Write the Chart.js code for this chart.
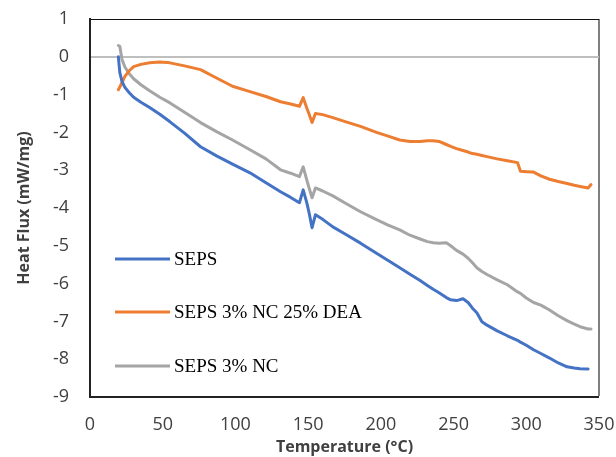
<!DOCTYPE html>
<html>
<head>
<meta charset="utf-8">
<script src="https://cdn.jsdelivr.net/npm/chart.js@4/dist/chart.umd.min.js"></script>
<style>
  html, body { margin: 0; padding: 0; background: #fff; }
  #wrap { width: 616px; height: 457px; }
</style>
</head>
<body>
<div id="wrap"><canvas id="DscChart"></canvas></div>
<script>
const temps = [19.5, 20.5, 22, 24, 27, 30, 35, 41, 48, 55, 65, 76, 87, 98, 110, 121, 131, 138, 144, 146.6,
  149, 150.5, 152.7, 155, 160, 167, 176, 186, 197, 205, 213, 220, 227, 232, 236, 240, 245, 248, 252, 256.5,
  260, 263, 266, 269.5, 273, 280, 287, 294, 296, 300, 305, 310, 316, 322, 328, 333, 337, 342.5, 344.5];

const seps = [0, -0.42, -0.65, -0.81, -0.95, -1.07, -1.2, -1.34, -1.52, -1.72, -2.02, -2.38, -2.62, -2.84, -3.07, -3.33, -3.57, -3.72, -3.86, -3.52,
  -3.85, -4.1, -4.52, -4.18, -4.3, -4.5, -4.7, -4.93, -5.2, -5.39, -5.58, -5.75, -5.92, -6.05, -6.15, -6.24, -6.37, -6.43, -6.45, -6.4,
  -6.5, -6.65, -6.77, -7.01, -7.1, -7.25, -7.38, -7.5, -7.55, -7.63, -7.75, -7.85, -7.97, -8.1, -8.2, -8.23, -8.25, -8.26, null];

const sepsNcDea = [-0.87, -0.8, -0.68, -0.52, -0.37, -0.26, -0.2, -0.16, -0.14, -0.16, -0.24, -0.34, -0.56, -0.78, -0.92, -1.05, -1.19, -1.25, -1.31, -1.08,
  -1.35, -1.5, -1.74, -1.5, -1.53, -1.61, -1.72, -1.84, -2.0, -2.1, -2.2, -2.24, -2.24, -2.22, -2.22, -2.24, -2.32, -2.37, -2.43, -2.48,
  -2.52, -2.56, -2.58, -2.61, -2.64, -2.7, -2.75, -2.8, -3.03, -3.04, -3.05, -3.15, -3.24, -3.3, -3.35, -3.4, -3.43, -3.47, -3.38];

const sepsNc = [0.3, 0.28, -0.07, -0.27, -0.45, -0.58, -0.74, -0.9, -1.07, -1.22, -1.47, -1.74, -1.98, -2.2, -2.46, -2.7, -2.99, -3.08, -3.17, -2.91,
  -3.25, -3.45, -3.73, -3.47, -3.55, -3.68, -3.88, -4.1, -4.31, -4.45, -4.58, -4.72, -4.82, -4.89, -4.92, -4.93, -4.92, -5.0, -5.12, -5.22,
  -5.33, -5.45, -5.58, -5.68, -5.76, -5.9, -6.03, -6.22, -6.26, -6.38, -6.5, -6.57, -6.7, -6.85, -6.98, -7.07, -7.14, -7.2, -7.2];

const seriesNames = ['SEPS', 'SEPS 3% NC 25% DEA', 'SEPS 3% NC'];
const seriesColors = ['#4472C4', '#ED7D31', '#A5A5A5'];

function toPoints(vals) {
  return temps.map((t, i) => ({ x: t, y: vals[i] }));
}

const tickFont = { family: 'Open Sans', size: 18 };
const titleFont = { family: 'Open Sans', size: 16, weight: 'bold' };
const textColor = '#404040';

// legend sits inside the plot area, on the left
const insideLegend = {
  id: 'insideLegend',
  afterDatasetsDraw(chart) {
    const { ctx, chartArea } = chart;
    const rows = [259, 312, 366];
    ctx.save();
    ctx.font = '19px "Liberation Serif"';
    ctx.textBaseline = 'middle';
    ctx.textAlign = 'left';
    chart.data.datasets.forEach((ds, i) => {
      const y = rows[i];
      ctx.strokeStyle = ds.borderColor;
      ctx.lineWidth = 3;
      ctx.beginPath();
      ctx.moveTo(chartArea.left + 25, y);
      ctx.lineTo(chartArea.left + 80, y);
      ctx.stroke();
      ctx.fillStyle = '#000';
      ctx.fillText(ds.label, chartArea.left + 84, y + 1);
    });
    ctx.restore();
  }
};

const ctx = document.getElementById('DscChart').getContext('2d');
const DscChart = new Chart(ctx, {
  type: 'line',
  data: {
    datasets: [
      { label: seriesNames[0], data: toPoints(seps), borderColor: seriesColors[0] },
      { label: seriesNames[1], data: toPoints(sepsNcDea), borderColor: seriesColors[1] },
      { label: seriesNames[2], data: toPoints(sepsNc), borderColor: seriesColors[2] }
    ]
  },
  options: {
    responsive: true,
    maintainAspectRatio: false,
    animation: false,
    layout: { padding: { left: 15, top: 19, right: 17, bottom: 0 } },
    elements: {
      point: { radius: 0 },
      line: { borderWidth: 3, tension: 0, borderJoinStyle: 'round', borderCapStyle: 'round' }
    },
    plugins: {
      legend: { display: false },
      tooltip: { enabled: false }
    },
    scales: {
      x: {
        type: 'linear',
        min: 0,
        max: 350,
        ticks: { stepSize: 50, font: tickFont, color: textColor, padding: 17, maxRotation: 0 },
        grid: {
          drawTicks: false,
          color: (c) => (c.tick && c.tick.value === 350 ? '#7f7f7f' : 'transparent'),
          lineWidth: (c) => (c.tick && c.tick.value === 350 ? 2 : 0)
        },
        border: { display: true, color: '#222', width: 2 },
        title: { display: true, text: 'Temperature (°C)', font: titleFont, color: textColor, padding: { top: 0, bottom: 0 } },
        afterFit(scale) {
          scale.height = 60;
          scale.paddingLeft = 0;
          scale.paddingRight = 0;
        }
      },
      y: {
        min: -9,
        max: 1,
        ticks: { stepSize: 1, font: tickFont, color: textColor, padding: 21 },
        grid: {
          drawTicks: false,
          color: (c) => {
            if (!c.tick) return 'transparent';
            if (c.tick.value === 0) return '#bfbfbf';
            if (c.tick.value === 1) return '#111';
            return 'transparent';
          },
          lineWidth: (c) => (c.tick && c.tick.value === 0 ? 2 : 1)
        },
        border: { display: true, color: '#222', width: 2 },
        title: { display: true, text: 'Heat Flux (mW/mg)', font: titleFont, color: textColor, padding: { top: 0, bottom: 0 } },
        afterFit(scale) {
          scale.width = 75;
          scale.paddingTop = 0;
          scale.paddingBottom = 0;
        }
      }
    }
  },
  plugins: [insideLegend]
});
</script>
</body>
</html>
